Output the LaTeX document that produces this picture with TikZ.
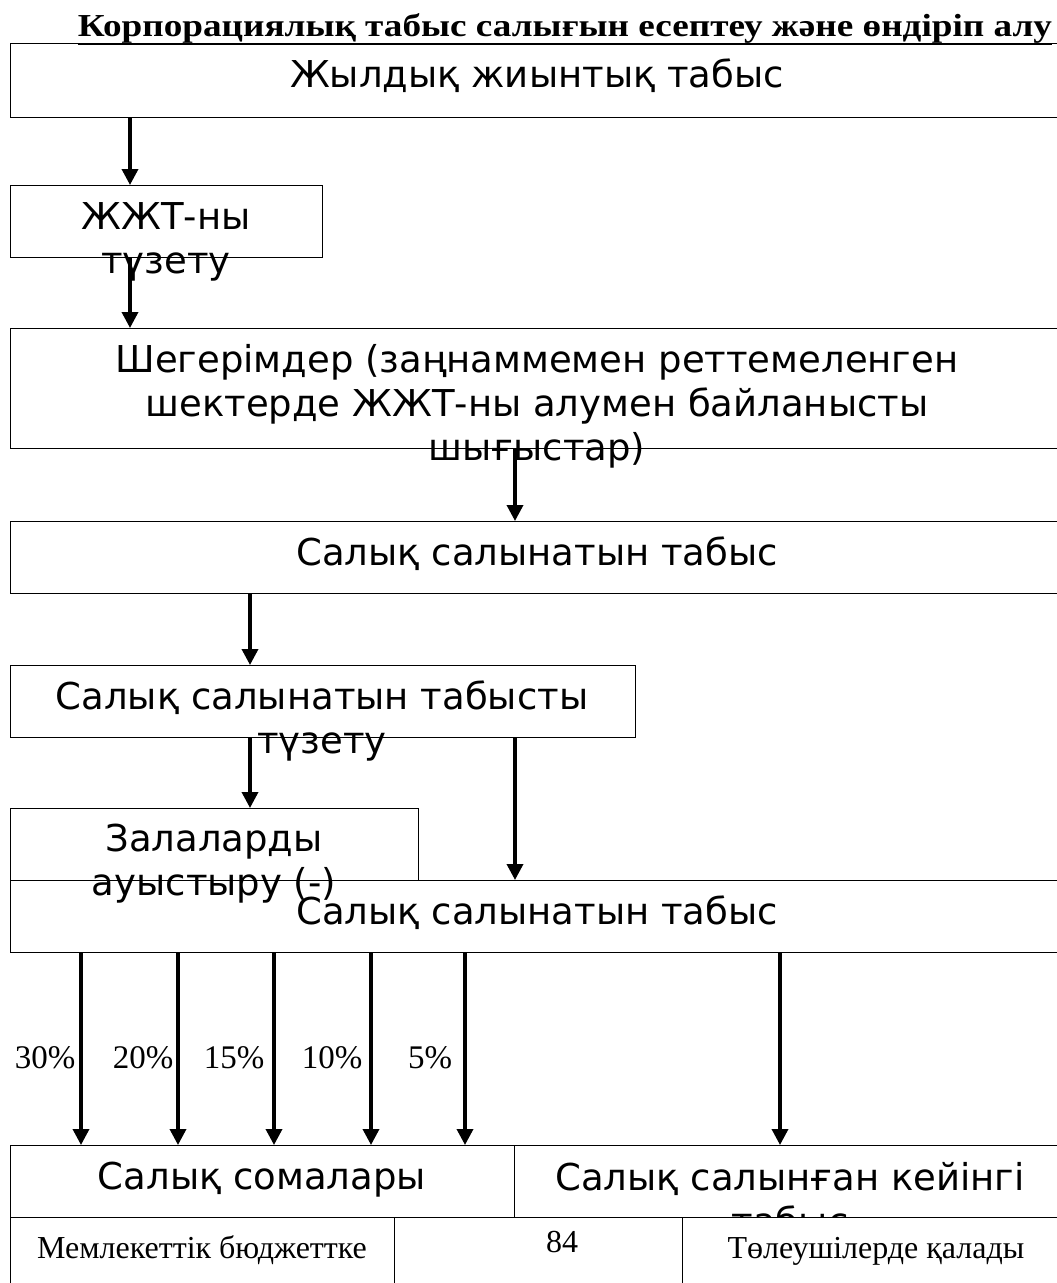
\documentclass[tikz,border=0pt]{standalone}
\usepackage{fontspec}
\setmainfont{Liberation Serif}
\setsansfont{DejaVu Sans}
\usepackage{graphicx}
\usetikzlibrary{arrows.meta,positioning}

\tikzset{
  box/.style={draw,line width=1.4pt,anchor=north west,inner sep=0pt,minimum height=72pt},
  cell/.style={box,fill=white,minimum height=90pt},
  lbl/.style={font=\sffamily\fontsize{37}{44}\selectfont,align=center,anchor=north,inner sep=0pt},
  note/.style={font=\fontsize{32}{38}\selectfont,anchor=base,inner sep=0pt},
  pct/.style={note,font=\fontsize{33}{38}\selectfont},
  arr/.style={-{Triangle[length=16pt,width=16pt]},line width=3.5pt}
}

\begin{document}
\begin{tikzpicture}[x=1pt,y=-1pt]
\useasboundingbox (0,0) rectangle (1057,1283);

% title
\node[anchor=base,inner sep=0pt,font=\fontsize{32}{38}\selectfont\bfseries] (title) at (565,36)
  {\resizebox{974pt}{\height}{\underline{Корпорациялық табыс салығын есептеу және өндіріп алу}}};

% boxes
\node[box,minimum width=1055pt,minimum height=74pt] (jti) at (10,43) {};
\node[box,minimum width=312pt] (jtt) at (10,185) {};
\node[box,minimum width=1055pt,minimum height=120pt] (sheg) at (10,328) {};
\node[box,minimum width=1055pt] (stab1) at (10,521) {};
\node[box,minimum width=625pt] (sttuz) at (10,665) {};
\node[box,minimum width=408pt] (zal) at (10,808) {};
\node[box,minimum width=1055pt] (stab2) at (10,880) {};
\node[box,minimum width=504pt] (som) at (10,1145) {};
\node[box,minimum width=551pt] (keyin) at (514,1145) {};

% texts
\node[lbl] (jtiT) at (537,59) {Жылдық жиынтық табыс};
\node[lbl] (jttT) at (166,202) {ЖЖТ-ны\\түзету};
\node[lbl] (shegT) at (537,344) {Шегерімдер (заңнаммемен реттемеленген\\шектерде ЖЖТ-ны алумен байланысты\\шығыстар)};
\node[lbl] (stab1T) at (537,537) {Салық салынатын табыс};
\node[lbl] (sttuzT) at (322,681) {Салық салынатын табысты\\түзету};
\node[lbl] (zalT) at (214,824) {Залаларды\\ауыстыру (-)};
\node[lbl] (stab2T) at (537,896) {Салық салынатын табыс};
\node[lbl] (somT) at (262,1162) {Салық сомалары};
\node[lbl] (keyinT) at (790,1162) {Салық салынған кейінгі\\табыс};

% arrows
\draw[arr] ([xshift=120pt]jti.south west) -- ([xshift=120pt]jtt.north west);
\draw[arr] ([xshift=120pt]jtt.south west) -- ([xshift=120pt]sheg.north west);
\draw[arr] ([xshift=505pt]sheg.south west) -- ([xshift=505pt]stab1.north west);
\draw[arr] ([xshift=240pt]stab1.south west) -- ([xshift=240pt]sttuz.north west);
\draw[arr] ([xshift=240pt]sttuz.south west) -- ([xshift=240pt]zal.north west);
\draw[arr] ([xshift=505pt]sttuz.south west) -- ([xshift=505pt]stab2.north west);
\foreach \dx/\cx/\p in {71/45/30,168/143/20,264/234/15,361/332/10,455/430/5}{
  \draw[arr] ([xshift=\dx pt]stab2.south west) -- ([xshift=\dx pt]som.north west);
  \node[pct] (p\p) at (\cx,1068) {\p\%};
}
\draw[arr] ([xshift=770pt]stab2.south west) -- ([xshift=266pt]keyin.north west);

% bottom table
\node[cell,minimum width=384pt] (budget) at (10,1217) {};
\node[cell,minimum width=288pt] (mid) at (394,1217) {};
\node[cell,minimum width=383pt] (payer) at (682,1217) {};
\node[note] (budgetT) at (202,1258) {Мемлекеттік бюджеттке};
\node[note] (page) at (562,1252) {84};
\node[note] (payerT) at (876,1258) {Төлеушілерде қалады};
\end{tikzpicture}
\end{document}
